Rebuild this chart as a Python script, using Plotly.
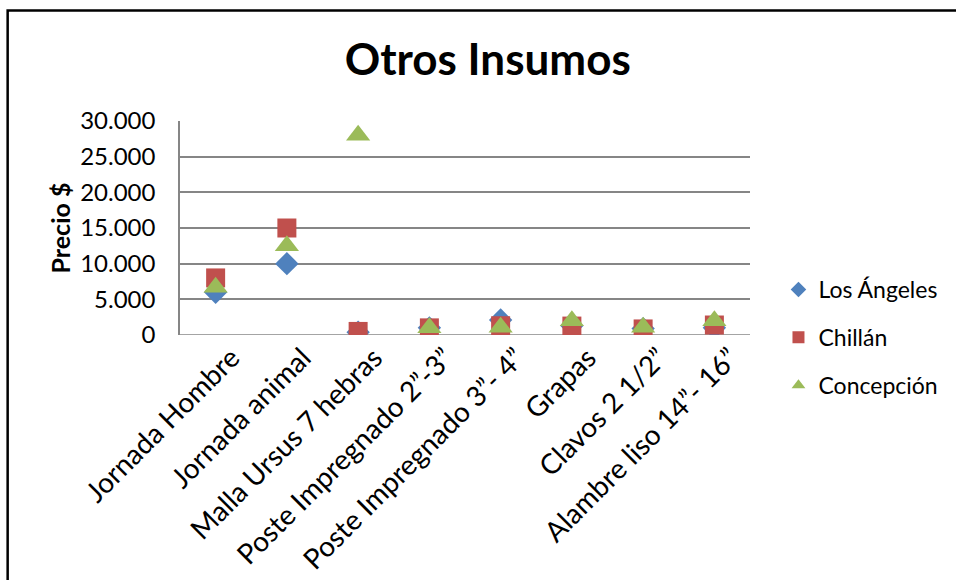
import plotly.graph_objects as go

# Categories and prices per city
categorias = [
    "Jornada Hombre",
    "Jornada animal",
    "Malla Ursus 7 hebras",
    "Poste Impregnado 2\u201d-3\u201d",
    "Poste Impregnado 3\u201d- 4\u201d",
    "Grapas",
    "Clavos 2 1/2\u201d",
    "Alambre liso 14\u201d- 16\u201d",
]
los_angeles = [6000, 10000, 400, 1000, 2100, 1300, 900, 1000]
chillan = [8000, 15000, 500, 1000, 1300, 1250, 850, 1400]
concepcion = [6700, 12500, 28000, 1000, 1100, 2000, 1100, 2000]
y_ticks = [0, 5000, 10000, 15000, 20000, 25000, 30000]

FONT = "Lato, 'Open Sans', sans-serif"
FS = 23

# Plot-area pixel geometry (956x580 canvas)
W, H = 956, 580
L, R, T, B = 180, 750.5, 121, 335
pw, ph = R - L, B - T

def px_x(x):
    return (x - L) / pw

def px_y(y):
    return (B - y) / ph

idx = list(range(len(categorias)))

fig = go.Figure()
fig.add_trace(go.Scatter(
    x=idx, y=los_angeles, mode="markers", name="Los \u00c1ngeles",
    legendgroup="la",
    marker=dict(symbol="diamond", size=18, color="#4F81BD"),
))
fig.add_trace(go.Scatter(
    x=idx, y=chillan, mode="markers", name="Chill\u00e1n",
    legendgroup="ch",
    marker=dict(symbol="square", size=19, color="#C0504D"),
))
fig.add_trace(go.Scatter(
    x=idx, y=concepcion, mode="markers", name="Concepci\u00f3n",
    legendgroup="co",
    marker=dict(symbol="triangle-up", size=21, color="#9BBB59"),
))

fig.update_layout(
    width=W, height=H,
    margin=dict(l=L, r=W - R, t=T, b=H - B, autoexpand=False),
    paper_bgcolor="white", plot_bgcolor="white",
    separators=",.",
    font=dict(family=FONT, size=FS, color="black"),
    title=dict(
        text="<b>Otros Insumos</b>",
        x=px_x(488), xref="paper", xanchor="center",
        y=1 - 60 / H, yref="container", yanchor="middle",
        font=dict(family=FONT, size=44, color="black"),
    ),
    showlegend=True,
    legend=dict(
        x=px_x(779), xanchor="left",
        y=px_y(290 - 22), yanchor="top",
        font=dict(family=FONT, size=FS, color="black"),
        tracegroupgap=15, itemsizing="constant", itemwidth=30,
        bgcolor="rgba(0,0,0,0)",
    ),
    xaxis=dict(
        range=[-0.5, 7.5],
        tickmode="array", tickvals=idx, ticktext=categorias,
        tickangle=-45, showgrid=False, zeroline=False,
        showline=False, ticks="", ticklabelshift=16, ticklabelstandoff=0,
        tickfont=dict(family=FONT, size=28, color="black"),
    ),
    yaxis=dict(
        range=[0, 30000], tickmode="array", tickvals=y_ticks,
        tickformat=",d", showgrid=True, gridcolor="#868686", gridwidth=1.5,
        zeroline=False, showline=True, linecolor="#868686", linewidth=1.5,
        ticks="", ticklabelstandoff=18,
        tickfont=dict(family=FONT, size=24, color="black"),
        title=dict(text="<b>Precio $</b>", standoff=2,
                   font=dict(family=FONT, size=25, color="black")),
    ),
    shapes=[
        # baseline at zero
        dict(type="line", xref="paper", yref="y", x0=0, x1=1, y0=0, y1=0,
             line=dict(color="#868686", width=1.5), layer="below"),
        # outer chart frame
        dict(type="rect", xref="paper", yref="paper",
             x0=px_x(7.5), x1=px_x(970), y0=px_y(600), y1=px_y(10.5),
             line=dict(color="black", width=2.5), fillcolor="rgba(0,0,0,0)"),
    ],
)

fig.write_html("out.html")
